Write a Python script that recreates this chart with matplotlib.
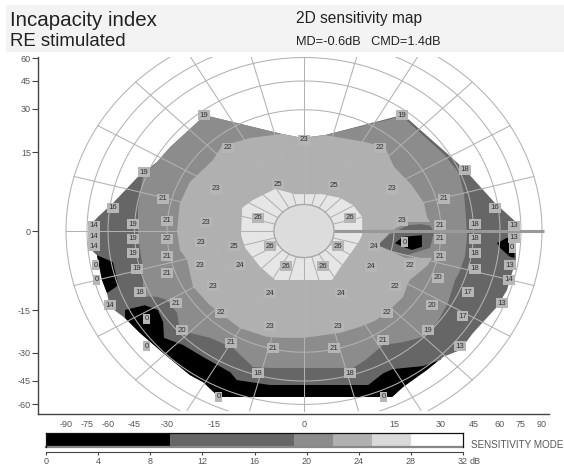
import numpy as np
import matplotlib
matplotlib.use('Agg')
import matplotlib.pyplot as plt
from matplotlib.patches import Rectangle

plt.rcParams['font.family'] = ['Liberation Sans', 'DejaVu Sans']

W, H = 564, 472

# Axis readings in degrees and where they fall, counted in pixels from the fixation point
deg_x = [0, 15, 30, 45, 60, 75, 90, 120]
off_x = [0, 90, 137, 169.5, 196, 217, 238, 278]
deg_y = [0, 15, 30, 45, 60, 80]
off_y = [0, 79, 122, 150, 173, 200]
aspect = 0.885

x_ticks = [-90, -75, -60, -45, -30, -15, 0, 15, 30, 45, 60, 75, 90]
y_ticks = [-60, -45, -30, -15, 0, 15, 30, 45, 60]
ring_ecc = [15, 30, 45, 60, 75, 90]
spoke_az = [a for a in range(15, 360, 15)]
disc_ecc = 5

# Colour scale
band_edges = [0, 9.5, 19, 22, 25, 28, 32]
band_colors = ['#000000', '#666666', '#8c8c8c', '#b0b0b0', '#d9d9d9', '#ffffff']
cbar_ticks = [0, 4, 8, 12, 16, 20, 24, 28, 32]

# Isopters as (x deg, y deg)
hull_x = [-18.2, -3.7, -0.3, 3.5, 17.6, 19.8, 33.7, 41.1, 57.2, 71.4, 71.4, 69.3, 66.4, 65, 58.3, 50.4, 44.8, 38.8,
          30.9, 25.5, 17.9, 14.7, -14.2, -18.5, -22.7, -31.8, -42.5, -50.4, -58.9, -60.7, -64.3, -67.9, -74.3,
          -74.3, -71.4, -67.1, -57.2, -43.4, -34.6, -29, -19.5]
hull_y = [27.9, 21.3, 19.9, 20.9, 27.9, 26.2, 14.4, 11.6, 5.3, 1.7, -5.9, -7.4, -9.9, -11.2, -14.4, -19.2, -23, -29,
          -32.1, -39.1, -48.9, -55.4, -55.4, -45.7, -41.8, -30, -23, -17.8, -14.4, -11.8, -9.3, -4.6, -3,
          0, 1.5, 2.7, 5.3, 10.3, 13.1, 16.7, 26.2]

mid_x = [-18.2, -3.7, -0.3, 3.5, 17.6, 21.7, 31.8, 38.3, 40.6, 41.5, 42, 41.1, 38.3, 36.5, 33.2, 28.7, 24.3, 17.9,
         13.2, 10.2, 8.2, -5.7, -8.5, -11.8, -16.3, -22.7, -25.9, -26.8, -30, -34.6, -41.1, -41.1, -43.4, -43.4,
         -41.1, -34.6, -29, -19.5]
mid_y = [27.9, 21.3, 19.9, 20.9, 27.5, 23.4, 14.4, 11, 7.2, 2.7, -1, -4.8, -8, -9.3, -13.7, -19.5, -24.4, -26.2,
         -27.2, -33.8, -38, -38, -37.5, -28.3, -24.7, -23, -22, -16, -13.1, -12.5, -12.4, -7.2, -1, 4.6,
         10.3, 13.1, 16.7, 26.2]

light_x = [-13.7, -9, -3.7, -0.3, 3.5, 10.2, 13.5, 15, 20.7, 24.6, 25.5, 26.5, 19.5, 14.7, 12.3, 18.5, 27.1, 25.8,
           20.1, 19.5, 17.9, 13.8, 11.8, 9.3, 6, 0, -3.7, -6.2, -10.7, -16.3, -21.7, -23.6, -25.9, -26.8, -25.9,
           -22.7, -15.3]
light_y = [17.1, 19.9, 21.3, 19.9, 20.9, 18.5, 16.7, 12.2, 8.7, 5.3, 2.7, 1.7, 1.7, 0.2, -2.7, -5.1, -5.1, -6.5,
           -9.3, -9.9, -12.5, -16, -18.8, -20.9, -23, -24.7, -24.7, -24.4, -21.3, -14.1, -10.6, -5.5, -3.6, 0, 5.3,
           9.3, 13.5]

top_x = [-4.8, -1.5, 3, 6, 8.2, 9.7, 9.7, 9, 6, 4.7, -4.8, -7.3, -9.8, -10.5, -10.3, -8.5]
top_y = [8, 7, 7, 6.3, 4.9, 2.7, -0.8, -2.3, -7, -9.3, -9.3, -6.8, -3.2, -0.8, 4.4, 5.9]

# Scotoma patches
blind_dark_x = [12.3, 14.3, 19.5, 23.3, 26.5, 27.8, 26.5, 19.1, 14.3]
blind_dark_y = [-2.7, -0.6, 1.1, 1.3, 1, -0.2, -3.2, -4.6, -3.6]
blind_black_x = [15.3, 17.9, 23.9, 23.9, 20.7, 17.9]
blind_black_y = [-2.3, -1.1, -0.8, -3, -3.6, -3]
right_black_x = [58.3, 65, 70.3, 70.3, 67.1, 60]
right_black_y = [-2.3, -1.3, -1.3, -5.1, -4.9, -3.2]
left_black_x = [-67.9, -57.2, -54.2, -60.7, -64.3]
left_black_y = [-4.6, -5.9, -10.3, -11.8, -9.3]
low_black_x = [-50.4, -50.4, -40.3, -34.2, -31.8, -31.4, -24.9, -18.5, -12.3, -11.2, -5.7, 6, 10.7, 13.2, 14.8, 24.3,
               29.7, 30.9, 25.5, 17.9, 14.7, -14.2, -18.5, -22.7, -31.8, -42.5]
low_black_y = [-17.8, -15, -14.1, -15, -19.2, -24.7, -27.2, -32.1, -40.3, -44.5, -47.6, -47.6, -47.6, -40.9, -38.6, -37,
               -33.8, -32.1, -39.1, -48.9, -55.4, -55.4, -45.7, -41.8, -30, -23]

# Measured points
pt_x = [-18.2, -12.7, -40.6, -14.7, -31.8, -57.2, -7.7, -70, -45.8, -30, -17.6, -4.3,
        17.6, 0, 12.7, 41.1, 5, 14.7, 31.4, 57.2, 7.7, 17.6, 29.7, 45.8, 70,
        -70, -70, -45.8, -30, -19.2, -11.7, -5.7, -45.8, -30, -19.5, -10.7, -68.6, -67.9, -43.8, -30, -15.3,
        -42.5, -5.7, -27.1, -58.9, -13.8, -39.4, -5.7, -25.2, -12.2, -39.4, -5.2, -7.7, -14.2,
        5.7, 11.7, 18.5, 29.7, 45.8, 70, 68.6, 29.7, 45.8, 67.1, 3.2, -3, 11.2, 20.1, 45.8, 66.4, 29.1, 15.3,
        6.2, 42.5, 61.4, 27.1, 40, 13.8, 5.7, 25.8, 38.8, 13.2, 5, 7.7, 13.3]
pt_y = [27.9, 16.4, 11.2, 8, 6.1, 4.4, 2.5, 1, 1.3, 1.9, 1.7, 8.9,
        27.9, 19.2, 16.4, 11.6, 8.7, 8, 6.1, 4.4, 2.5, 1.9, 1.1, 1.3, 1,
        -1, -2.9, -1.5, -1.5, -2.1, -2.9, -2.9, -4.2, -4.8, -6.5, -6.5, -6.5, -9.3, -7.2, -8, -10.5,
        -11.6, -11.8, -13.7, -14.1, -16, -18.1, -20.6, -22, -26.5, -27.6, -28.3, -40.9, -55.4,
        -2.9, -2.9, -2.1, -1.5, -1.5, -1.3, -3.2, -4.8, -4.2, -6.5, -6.7, -6.7, -6.8, -6.5, -7.2, -9.3, -8.9, -10.5,
        -11.8, -11.6, -13.7, -14.1, -17.1, -16, -20.6, -22, -27.6, -25.5, -28.3, -40.9, -55.4]
pt_db = [19, 22, 19, 23, 21, 16, 26, 14, 19, 21, 23, 25,
         19, 23, 22, 18, 25, 23, 21, 16, 26, 23, 21, 18, 13,
         14, 14, 19, 22, 23, 25, 26, 19, 21, 23, 24, 0, 0, 19, 21, 23,
         18, 24, 21, 14, 22, 0, 23, 20, 21, 0, 21, 18, 0,
         26, 24, 0, 21, 18, 13, 0, 21, 18, 13, 26, 26, 24, 22, 18, 14, 20, 22,
         24, 17, 13, 20, 17, 22, 23, 19, 13, 21, 21, 18, 0]


def to_off_x(v):
    v = np.asarray(v, dtype=float)
    return np.sign(v) * np.interp(np.abs(v), deg_x, off_x)


def from_off_x(p):
    p = np.asarray(p, dtype=float)
    return np.sign(p) * np.interp(np.abs(p), off_x, deg_x)


def to_off_y(v):
    v = np.asarray(v, dtype=float)
    return np.sign(v) * np.interp(np.abs(v), deg_y, off_y)


def from_off_y(p):
    p = np.asarray(p, dtype=float)
    return np.sign(p) * np.interp(np.abs(p), off_y, deg_y)


def polar_xy(az, ecc):
    # eccentricity / azimuth -> the values the two warped axes expect
    r = to_off_x(ecc)
    t = np.radians(az)
    px = r * np.cos(t)
    py = r * np.sin(t) * aspect
    py = np.where(py < -180, np.nan, py)  # grid stops just above the bottom axis
    return from_off_x(px), from_off_y(py)


fig = plt.figure(figsize=(W / 100, H / 100), dpi=100)

# Title band
fig.add_artist(Rectangle((6 / W, 1 - 52 / H), 558 / W, 47 / H, transform=fig.transFigure,
                         facecolor='#f3f3f3', edgecolor='none'))
txt = '#222222'
fig.text(10 / W, 1 - 20 / H, 'Incapacity index', fontsize=14.8, color=txt, va='center')
fig.text(10 / W, 1 - 42 / H, 'RE stimulated', fontsize=13.4, color=txt, va='center')
fig.text(296 / W, 1 - 19 / H, '2D sensitivity map', fontsize=11.2, color=txt, va='center')
fig.text(296 / W, 1 - 42 / H, 'MD=-0.6dB   CMD=1.4dB', fontsize=9.2, color=txt, va='center')

# Main map
ax = fig.add_axes([38 / W, 1 - 414 / H, (549 - 38) / W, (414 - 57) / H])
ax.set_xscale('function', functions=(to_off_x, from_off_x))
ax.set_yscale('function', functions=(to_off_y, from_off_y))
ax.set_xlim(float(from_off_x(-266)), float(from_off_x(245)))
ax.set_ylim(float(from_off_y(-183)), float(from_off_y(174)))

ax.fill(hull_x, hull_y, color=band_colors[1], lw=0, zorder=1)
ax.fill(left_black_x, left_black_y, color=band_colors[0], lw=0, zorder=2)
ax.fill(right_black_x, right_black_y, color=band_colors[0], lw=0, zorder=2)
ax.fill(low_black_x, low_black_y, color=band_colors[0], lw=0, zorder=2)
ax.fill(mid_x, mid_y, color=band_colors[2], lw=0, zorder=3)
ax.fill(light_x, light_y, color=band_colors[3], lw=0, zorder=4)
ax.fill(blind_dark_x, blind_dark_y, color=band_colors[1], lw=0, zorder=4.5)
ax.fill(blind_black_x, blind_black_y, color=band_colors[0], lw=0, zorder=4.6)
ax.fill(top_x, top_y, color='#e6e6e6', lw=0, zorder=5)  # looks paler on the map than in the bar

# Polar grid
grid_color = '#b2b2b2'
az_all = np.linspace(0, 360, 721)
for e in ring_ecc:
    gx, gy = polar_xy(az_all, np.full_like(az_all, e))
    ax.plot(gx, gy, color=grid_color, lw=0.75, zorder=6)
for a in spoke_az:
    r_vals = np.linspace(to_off_x(disc_ecc), to_off_x(90), 150)
    ecc_vals = from_off_x(r_vals)
    gx, gy = polar_xy(np.full_like(ecc_vals, a), ecc_vals)
    ax.plot(gx, gy, color=grid_color, lw=0.75, zorder=6)

gx, gy = polar_xy(az_all, np.full_like(az_all, disc_ecc))
ax.fill(gx, gy, facecolor='#dcdcdc', edgecolor='#a8a8a8', lw=1, zorder=7)

# Blind spot marker along the horizontal
ax.plot([disc_ecc, 91.5], [0, 0], color='#999999', lw=2.2, zorder=8, solid_capstyle='butt')

for x, y, v in zip(pt_x, pt_y, pt_db):
    ax.text(x, y, str(v), fontsize=5.6, color='#333333', ha='center', va='center', zorder=9,
            bbox=dict(boxstyle='square,pad=0.18', facecolor='#b6b6b6', edgecolor='none'))

for side in ['top', 'right']:
    ax.spines[side].set_visible(False)
for side in ['left', 'bottom']:
    ax.spines[side].set_color('#444444')
    ax.spines[side].set_linewidth(1)
ax.set_xticks(x_ticks)
ax.set_xticklabels([str(v) for v in x_ticks])
ax.set_yticks(y_ticks)
ax.set_yticklabels([str(v) for v in y_ticks])
ax.minorticks_off()
ax.tick_params(axis='x', length=0, pad=4, labelsize=6.5, labelcolor='#555555')
ax.tick_params(axis='y', length=4, width=0.8, color='#444444', pad=1, labelsize=6.5, labelcolor='#555555')

# Colour bar
cax = fig.add_axes([46 / W, 1 - 447 / H, (463 - 46) / W, 14 / H])
cax.barh([0.5] * len(band_colors), np.diff(band_edges), left=band_edges[:-1], height=1, color=band_colors, lw=0)
cax.set_xlim(0, 32)
cax.set_ylim(0, 1)
cax.set_yticks([])
cax.set_xticks(cbar_ticks)
cax.set_xticklabels([str(v) for v in cbar_ticks])
cax.tick_params(axis='x', length=2, width=0.8, color='#444444', pad=1.5, labelsize=6.5, labelcolor='#555555')
cax.spines['bottom'].set_position(('outward', 3.5))
cax.spines['bottom'].set_color('#444444')
for side in ['top', 'right', 'left']:
    cax.spines[side].set_color('#111111')
    cax.spines[side].set_linewidth(0.9)
cax.axhline(0, color='#888888', lw=1.6, clip_on=False)
fig.text(470 / W, 1 - 462 / H, 'dB', fontsize=6.5, color='#555555', va='center')
fig.text(471 / W, 1 - 445 / H, 'SENSITIVITY MODE', fontsize=7.1, color='#555555', va='center')

fig.savefig('out.png', dpi=100)
